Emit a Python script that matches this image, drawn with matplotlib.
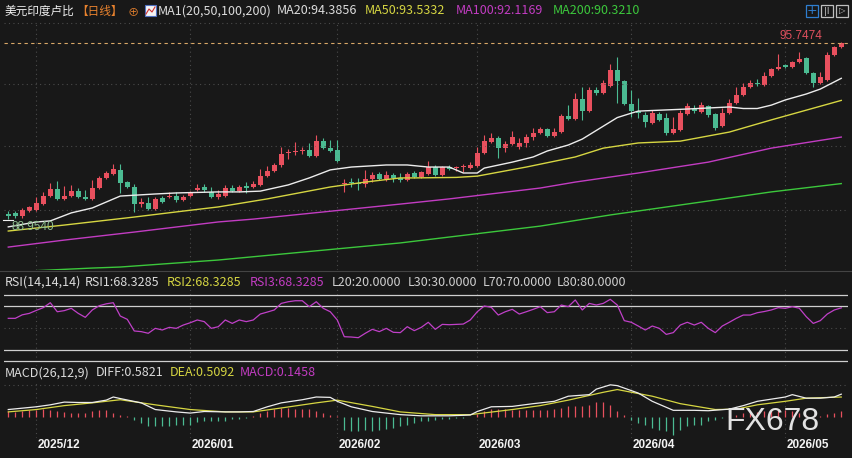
import matplotlib
matplotlib.use('Agg')
import matplotlib.pyplot as plt
from matplotlib.patches import Rectangle
from matplotlib.lines import Line2D
import numpy as np

W, H = 852, 458
BG = '#181818'
RED = '#e8505e'
GREEN = '#4bbb92'
CJK = ['Noto Sans CJK SC', 'DejaVu Sans']

# daily candles, 2025-11 end .. 2026-05
opens = [89.15, 89.19, 89.07, 89.26, 89.30, 89.53, 89.84, 90.11, 89.73, 89.84,
         90.03, 89.80, 89.73, 90.15, 90.54, 90.69, 90.85, 90.38, 90.19, 89.53,
         89.57, 89.34, 89.76, 89.80, 89.84, 89.69, 89.84, 90.07, 90.19, 90.00,
         89.80, 89.84, 90.15, 90.03, 90.23, 90.19, 90.27, 90.61, 90.81, 91.04,
         91.50, 91.54, 91.58, 91.62, 91.39, 91.96, 91.69, 91.62, 90.31, 90.38,
         90.34, 90.31, 90.50, 90.69, 90.50, 90.65, 90.54, 90.46, 90.73, 90.58,
         90.69, 90.96, 90.65, 90.96, 90.92, 90.96, 90.92, 91.00, 91.50, 91.93,
         92.08, 91.69, 91.85, 91.73, 91.89, 92.12, 92.27, 92.43, 92.16, 92.31,
         92.93, 92.81, 93.59, 93.12, 93.93, 93.82, 94.09, 94.71, 94.28, 93.39,
         93.12, 92.97, 92.66, 93.01, 92.85, 92.27, 92.39, 93.01, 93.20, 93.08,
         93.32, 93.01, 92.54, 93.05, 93.43, 93.74, 94.05, 94.20, 94.13, 94.47,
         94.74, 94.90, 94.82, 95.01, 95.17, 94.59, 94.20, 94.32, 95.28, 95.59]
highs = [89.26, 89.26, 89.38, 89.46, 89.80, 90.00, 90.34, 90.42, 90.23, 90.27,
         90.15, 90.07, 90.46, 90.61, 90.81, 91.08, 91.08, 90.42, 90.31, 89.76,
         89.80, 89.80, 89.84, 90.00, 90.00, 89.88, 90.03, 90.31, 90.31, 90.19,
         90.07, 90.27, 90.27, 90.27, 90.38, 90.42, 90.88, 91.00, 91.12, 91.73,
         91.66, 91.93, 91.73, 91.89, 92.20, 92.08, 92.00, 92.00, 90.50, 90.54,
         90.54, 90.85, 90.77, 90.77, 90.81, 90.73, 90.73, 90.77, 90.81, 90.81,
         91.19, 91.04, 91.00, 91.04, 91.00, 91.08, 91.15, 91.73, 92.20, 92.27,
         92.16, 91.96, 92.35, 92.08, 92.24, 92.47, 92.50, 92.47, 92.47, 93.01,
         93.35, 93.82, 94.05, 94.05, 94.05, 94.32, 94.94, 95.21, 94.32, 93.93,
         93.62, 93.08, 93.16, 93.08, 93.05, 92.89, 93.16, 93.43, 93.35, 93.47,
         93.35, 93.05, 93.24, 93.59, 94.05, 94.20, 94.32, 94.36, 94.63, 94.78,
         95.32, 94.94, 95.05, 95.40, 95.21, 94.63, 94.63, 95.40, 95.63, 95.80]
lows = [88.95, 88.99, 88.99, 89.22, 89.26, 89.49, 89.80, 89.69, 89.69, 89.80,
        89.76, 89.69, 89.69, 90.11, 90.50, 90.65, 89.96, 90.15, 89.22, 89.42,
        89.30, 89.30, 89.57, 89.76, 89.61, 89.65, 89.80, 90.03, 90.00, 89.76,
        89.73, 89.80, 90.00, 90.00, 89.96, 90.15, 90.23, 90.58, 90.77, 90.96,
        91.27, 91.42, 91.46, 91.35, 91.35, 91.66, 91.54, 91.15, 90.00, 90.19,
        90.07, 90.19, 90.38, 90.46, 90.42, 90.38, 90.38, 90.42, 90.54, 90.54,
        90.65, 90.61, 90.61, 90.85, 90.81, 90.77, 90.88, 90.96, 91.46, 91.89,
        91.31, 91.54, 91.81, 91.66, 91.73, 92.00, 92.24, 92.12, 92.12, 92.27,
        92.78, 92.78, 92.78, 93.08, 93.74, 93.78, 94.05, 93.43, 93.35, 92.89,
        92.85, 92.50, 92.62, 92.74, 92.20, 92.24, 92.35, 92.97, 93.05, 93.05,
        92.89, 92.39, 92.51, 93.01, 93.39, 93.70, 94.01, 94.09, 94.09, 94.43,
        94.71, 94.78, 94.78, 94.98, 94.55, 94.05, 94.17, 94.28, 95.25, 95.55]
closes = [89.07, 89.07, 89.30, 89.42, 89.57, 89.84, 90.11, 89.73, 89.84, 90.03,
          89.80, 89.73, 90.15, 90.54, 90.73, 90.88, 90.34, 90.19, 89.53, 89.61,
          89.34, 89.73, 89.61, 89.84, 89.69, 89.80, 89.96, 90.15, 90.07, 89.80,
          89.92, 90.15, 90.03, 90.19, 90.15, 90.31, 90.61, 90.81, 91.04, 91.46,
          91.54, 91.58, 91.62, 91.39, 91.96, 91.69, 91.58, 91.19, 90.34, 90.34,
          90.31, 90.50, 90.65, 90.50, 90.65, 90.54, 90.46, 90.69, 90.58, 90.77,
          90.96, 90.65, 90.96, 90.88, 90.96, 91.00, 91.04, 91.50, 91.96, 92.08,
          91.69, 91.85, 92.12, 91.89, 92.12, 92.27, 92.43, 92.16, 92.31, 92.93,
          92.81, 93.59, 93.12, 93.93, 93.82, 94.20, 94.71, 94.28, 93.39, 93.12,
          93.05, 92.70, 93.05, 92.78, 92.27, 92.43, 93.05, 93.32, 93.12, 93.35,
          92.97, 92.47, 93.05, 93.43, 93.74, 94.05, 94.20, 94.17, 94.47, 94.74,
          94.82, 94.82, 95.01, 95.13, 94.59, 94.20, 94.44, 95.28, 95.59, 95.7474]

# moving averages, read at the listed candle positions
ma20_idx = [0, 4, 6, 9, 12, 14, 16, 21, 24, 30, 33, 36, 40, 43, 46, 49, 54, 57, 60, 63,
            65, 67, 68, 72, 75, 77, 80, 82, 87, 89, 90, 97, 103, 105, 107, 109, 111, 114, 116, 119]
ma20_vals = [88.65, 88.84, 88.88, 89.19, 89.38, 89.61, 89.84, 89.92, 89.96, 90.00,
             90.00, 90.03, 90.27, 90.54, 90.85, 90.96, 91.04, 91.04, 90.96, 90.96,
             90.73, 90.73, 90.92, 91.15, 91.35, 91.58, 91.81, 92.04, 92.87, 93.04,
             93.12, 93.20, 93.28, 93.22, 93.22, 93.35, 93.55, 93.78, 93.97, 94.3856]
ma50_idx = [0, 8, 18, 25, 30, 37, 46, 51, 56, 58, 64, 67, 74, 81, 85, 90, 96, 103, 109, 119]
ma50_vals = [88.49, 88.72, 89.03, 89.26, 89.42, 89.73, 90.19, 90.38, 90.54, 90.54,
             90.56, 90.61, 90.96, 91.35, 91.69, 91.89, 91.96, 92.31, 92.78, 93.5332]
ma100_idx = [0, 8, 18, 30, 35, 56, 63, 76, 81, 90, 100, 109, 119]
ma100_vals = [87.87, 88.14, 88.45, 88.84, 88.95, 89.53, 89.73, 90.15, 90.38, 90.73,
              91.15, 91.69, 92.1169]
ma200_idx = [0, 12, 16, 30, 56, 76, 86, 99, 109, 119]
ma200_vals = [86.91, 87.06, 87.10, 87.37, 88.03, 88.68, 89.11, 89.61, 90.00, 90.3210]

rsi = [58.8, 58.8, 62.0, 63.3, 66.0, 68.5, 73.0, 64.8, 65.8, 67.9,
       63.3, 59.7, 66.4, 70.3, 72.0, 73.0, 60.9, 57.9, 47.3, 46.7,
       45.2, 49.7, 48.2, 50.6, 49.7, 52.7, 54.8, 57.3, 55.8, 49.7,
       51.2, 57.3, 54.2, 57.3, 55.8, 57.3, 62.7, 64.5, 66.4, 72.4,
       73.9, 74.8, 74.8, 69.4, 73.9, 67.9, 64.8, 57.3, 42.1, 41.8,
       41.2, 45.2, 48.8, 46.7, 49.7, 46.1, 45.8, 51.2, 47.6, 50.6,
       55.2, 48.8, 53.3, 53.0, 53.3, 53.6, 57.3, 64.8, 70.0, 68.8,
       61.8, 64.8, 67.0, 62.7, 64.8, 67.0, 69.4, 64.0, 64.8, 70.9,
       69.4, 75.5, 66.4, 72.4, 70.9, 72.4, 76.1, 70.9, 56.7, 55.2,
       51.8, 48.2, 51.8, 49.7, 44.2, 45.8, 52.7, 55.2, 52.7, 55.2,
       49.7, 45.8, 51.8, 55.2, 58.8, 61.8, 61.8, 63.9, 65.0, 66.4,
       68.5, 67.9, 69.4, 68.0, 60.3, 54.2, 56.7, 62.7, 66.4, 68.3285]
rsi_levels = [20, 30, 70, 80]

diff_idx = [0, 4, 6, 8, 10, 12, 14, 15, 16, 19, 21, 24, 26, 28, 31, 33, 35, 37, 39, 42,
            44, 46, 47, 49, 52, 54, 56, 59, 61, 63, 66, 67, 69, 72, 75, 78, 80, 83, 84, 86,
            87, 90, 92, 95, 98, 100, 103, 105, 107, 111, 112, 114, 116, 118, 119]
diff_vals = [0.19, 0.26, 0.31, 0.38, 0.37, 0.37, 0.43, 0.51, 0.47, 0.36,
             0.19, 0.13, 0.10, 0.14, 0.13, 0.13, 0.14, 0.26, 0.36, 0.44,
             0.51, 0.50, 0.40, 0.26, 0.14, 0.10, 0.06, 0.03, 0.03, 0.03,
             0.05, 0.14, 0.26, 0.27, 0.34, 0.40, 0.53, 0.57, 0.71, 0.82,
             0.80, 0.61, 0.40, 0.17, 0.17, 0.16, 0.20, 0.29, 0.40, 0.51,
             0.57, 0.48, 0.48, 0.51, 0.5821]
dea_idx = [0, 4, 8, 12, 16, 21, 26, 31, 35, 39, 44, 47, 52, 56, 61, 66, 72, 76, 80, 85,
           87, 92, 96, 101, 104, 107, 111, 114, 119]
dea_vals = [0.13, 0.19, 0.29, 0.36, 0.44, 0.31, 0.19, 0.13, 0.13, 0.23,
            0.36, 0.43, 0.27, 0.13, 0.06, 0.06, 0.19, 0.29, 0.43, 0.63,
            0.70, 0.53, 0.34, 0.19, 0.20, 0.31, 0.40, 0.48, 0.5092]
macd_hist = [0.14, 0.13, 0.14, 0.17, 0.19, 0.20, 0.17, 0.14, 0.13, 0.10,
             0.09, 0.10, 0.14, 0.17, 0.19, 0.10, 0.06, 0.02, -0.08, -0.15,
             -0.24, -0.24, -0.24, -0.22, -0.20, -0.20, -0.20, -0.14, -0.11, -0.11,
             -0.11, -0.09, -0.05, -0.05, -0.02, 0.03, 0.10, 0.14, 0.20, 0.23,
             0.23, 0.20, 0.20, 0.20, 0.14, 0.10, 0.06, 0.02, -0.32, -0.37,
             -0.37, -0.32, -0.37, -0.32, -0.31, -0.28, -0.24, -0.20, -0.15, -0.11,
             -0.09, -0.07, -0.05, -0.04, -0.03, -0.02, -0.01, 0.08, 0.14, 0.20,
             0.20, 0.20, 0.19, 0.19, 0.19, 0.17, 0.17, 0.19, 0.20, 0.22,
             0.27, 0.27, 0.29, 0.31, 0.37, 0.37, 0.31, 0.14, 0.04, -0.08,
             -0.15, -0.20, -0.28, -0.32, -0.37, -0.45, -0.32, -0.24, -0.20, -0.20,
             -0.11, -0.07, -0.03, 0.03, 0.06, 0.09, 0.11, 0.13, 0.16, 0.18,
             0.19, 0.17, 0.15, 0.10, 0.04, 0.01, 0.02, 0.07, 0.10, 0.1458]

month_idx = [4, 26, 47, 67, 89, 111]
month_labels = ['2025/12', '2026/01', '2026/02', '2026/03', '2026/04', '2026/05']
last_price = 95.7474
low_price = 88.9540


def px_axes(fig, x0, y0, x1, y1):
    ax = fig.add_axes([x0 / W, 1 - y1 / H, (x1 - x0) / W, (y1 - y0) / H])
    ax.set_facecolor(BG)
    ax.set_xlim(-0.61, 119.96)
    ax.set_xticks([])
    ax.set_yticks([])
    for s in ax.spines.values():
        s.set_visible(False)
    for m in month_idx:
        ax.axvline(m, color='#4a4a4a', lw=0.8, ls=(0, (1, 3)))
    return ax


def ftxt(fig, x, y, s, color, size=9, **kw):
    fig.text(x / W, 1 - y / H, s, color=color, fontsize=size, va='center',
             ha=kw.pop('ha', 'left'), family=kw.pop('family', CJK), **kw)


def hline_px(fig, x0, x1, y, color, lw=0.8):
    fig.add_artist(Line2D([x0 / W, x1 / W], [1 - y / H, 1 - y / H],
                          transform=fig.transFigure, color=color, lw=lw))


fig = plt.figure(figsize=(W / 100, H / 100), dpi=100, facecolor=BG)
x = np.arange(len(closes))

# main price panel
ax = px_axes(fig, 4, 22, 848, 270)
ax.set_ylim(86.985, 96.56)
for lvl in [89.30, 91.77, 94.16, 96.52]:
    ax.axhline(lvl, color='#4a4a4a', lw=0.8, ls=(0, (1, 3)))
o, c = np.array(opens), np.array(closes)
cols = [RED if ci >= oi else GREEN for oi, ci in zip(o, c)]
ax.vlines(x, lows, highs, colors=cols, lw=0.8)
ax.bar(x, np.maximum(np.abs(c - o), 0.035), bottom=np.minimum(o, c),
       width=0.72, color=cols, lw=0)
ax.plot(ma200_idx, ma200_vals, color='#3cc83c', lw=1.0)
ax.plot(ma100_idx, ma100_vals, color='#c23cc2', lw=1.0)
ax.plot(ma50_idx, ma50_vals, color='#d6d642', lw=1.0)
ax.plot(ma20_idx, ma20_vals, color='#ececec', lw=1.0)
ax.axhline(last_price, color='#d9a868', lw=0.8, ls=(0, (3, 3)))

# RSI panel
ax_r = px_axes(fig, 4, 287, 848, 366)
ax_r.set_ylim(15.45, 87.3)
ax_r.axhline(50, color='#4a4a4a', lw=0.8, ls=(0, (1, 3)))
for lvl in rsi_levels:
    ax_r.axhline(lvl, color='#cfcfcf', lw=0.9)
ax_r.plot(x, rsi, color='#c040c8', lw=0.9)

# MACD panel
ax_m = px_axes(fig, 4, 383, 848, 438)
ax_m.set_ylim(-0.536, 0.867)
ax_m.axhline(0.82, color='#4a4a4a', lw=0.8, ls=(0, (1, 3)))
hist = np.array(macd_hist)
ax_m.vlines(x, 0, hist, colors=[RED if h >= 0 else GREEN for h in hist], lw=0.9)
ax_m.plot(dea_idx, dea_vals, color='#d6d642', lw=0.9)
ax_m.plot(diff_idx, diff_vals, color='#ececec', lw=0.9)

hline_px(fig, 0, 852, 270.5, '#444444')

# legends
ftxt(fig, 5, 11, '美元印度卢比', '#f0f0f0', size=8.4)
ftxt(fig, 76, 11, '【日线】', '#e8822e', size=8.4)
ftxt(fig, 128, 12, '⊕', '#e8822e', size=8)
fig.add_artist(Rectangle((145 / W, 1 - 16 / H), 11 / W, 11 / H, transform=fig.transFigure,
                         facecolor='#f4f4f4', edgecolor='#5070c0', lw=0.8))
fig.add_artist(Line2D(np.array([146, 149, 152, 155]) / W, 1 - np.array([14, 9, 12, 7]) / H,
                      transform=fig.transFigure, color='#d03030', lw=0.8))
ftxt(fig, 158, 11, 'MA1(20,50,100,200)', '#dcdcdc')
ftxt(fig, 277, 11, 'MA20:94.3856', '#dcdcdc')
ftxt(fig, 365, 11, 'MA50:93.5332', '#d6d642')
ftxt(fig, 456, 11, 'MA100:92.1169', '#c23cc2')
ftxt(fig, 553, 11, 'MA200:90.3210', '#3cc83c')

for k, (bx, ec) in enumerate([(806, '#2f7fd0'), (821, '#bfbfbf'), (836, '#bfbfbf')]):
    fig.add_artist(Rectangle((bx / W, 1 - 17 / H), 12 / W, 12 / H, transform=fig.transFigure,
                             facecolor=BG, edgecolor=ec, lw=0.9))
ftxt(fig, 812, 11, '+', '#2f7fd0', size=9, ha='center', family='DejaVu Sans')
ftxt(fig, 827, 11, '|I', '#cfcfcf', size=6, ha='center', family='DejaVu Sans')
ftxt(fig, 842, 11, '▷', '#cfcfcf', size=6, ha='center', family='DejaVu Sans')

ftxt(fig, 5, 282, 'RSI(14,14,14)', '#dcdcdc')
ftxt(fig, 85, 282, 'RSI1:68.3285', '#dcdcdc')
ftxt(fig, 167, 282, 'RSI2:68.3285', '#d6d642')
ftxt(fig, 250, 282, 'RSI3:68.3285', '#c23cc2')
ftxt(fig, 332, 282, 'L20:20.0000', '#cfcfcf')
ftxt(fig, 408, 282, 'L30:30.0000', '#cfcfcf')
ftxt(fig, 483, 282, 'L70:70.0000', '#cfcfcf')
ftxt(fig, 557, 282, 'L80:80.0000', '#cfcfcf')

ftxt(fig, 5, 373, 'MACD(26,12,9)', '#dcdcdc')
ftxt(fig, 96, 373, 'DIFF:0.5821', '#dcdcdc')
ftxt(fig, 170, 373, 'DEA:0.5092', '#d6d642')
ftxt(fig, 240, 373, 'MACD:0.1458', '#c23cc2')

# price labels
ftxt(fig, 822, 36, f'{last_price:.4f}', '#e0505e', size=8.5, ha='right', family='Liberation Sans')
ftxt(fig, 12, 227, f'{low_price:.4f}', '#8fbf8f', size=8.5, family='Liberation Sans')
hline_px(fig, 3, 13, 219.5, '#f0f0f0')

for m, lab in zip(month_idx, month_labels):
    ftxt(fig, 8.3 + 7 * m + 1.5, 445, lab, '#f4f4f4', size=8.5, weight='bold',
         family='Liberation Sans')

ftxt(fig, 772, 422, 'FX678', '#e2e2e2', size=23, ha='center', family='Liberation Sans')

fig.savefig('out.png', dpi=100, facecolor=BG)
plt.close(fig)
